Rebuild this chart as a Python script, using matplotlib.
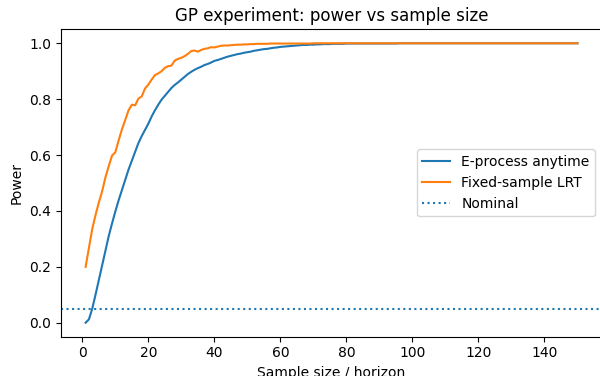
import numpy as np
import matplotlib
matplotlib.use("Agg")
import matplotlib.pyplot as plt

# horizons 1..150
horizons = np.arange(1, 151)

eprocess_power = [
    0.000, 0.012, 0.050, 0.100, 0.152, 0.205, 0.258, 0.310, 0.355, 0.398,
    0.438, 0.475, 0.512, 0.548, 0.580, 0.612, 0.643, 0.668, 0.690, 0.712,
    0.738, 0.760, 0.780, 0.798, 0.812, 0.826, 0.840, 0.851, 0.860, 0.870,
    0.880, 0.890, 0.898, 0.905, 0.911, 0.916, 0.922, 0.926, 0.931, 0.937,
    0.940, 0.944, 0.948, 0.952, 0.955, 0.958, 0.961, 0.963, 0.966, 0.968,
    0.970, 0.973, 0.975, 0.977, 0.979, 0.980, 0.982, 0.984, 0.985, 0.987,
    0.988, 0.989, 0.990, 0.991, 0.992, 0.993, 0.994, 0.994, 0.995, 0.995,
    0.996, 0.996, 0.997, 0.997, 0.997, 0.998, 0.998, 0.998, 0.998, 0.999,
    0.999, 0.999, 0.999, 0.999, 0.999, 0.999, 0.999, 0.999, 0.999, 0.999,
    0.999, 0.999, 0.999, 0.999, 0.999, 1.000, 1.000, 1.000, 1.000, 1.000,
    1.000, 1.000, 1.000, 1.000, 1.000, 1.000, 1.000, 1.000, 1.000, 1.000,
    1.000, 1.000, 1.000, 1.000, 1.000, 1.000, 1.000, 1.000, 1.000, 1.000,
    1.000, 1.000, 1.000, 1.000, 1.000, 1.000, 1.000, 1.000, 1.000, 1.000,
    1.000, 1.000, 1.000, 1.000, 1.000, 1.000, 1.000, 1.000, 1.000, 1.000,
    1.000, 1.000, 1.000, 1.000, 1.000, 1.000, 1.000, 1.000, 1.000, 1.000,
]

lrt_power = [
    0.200, 0.268, 0.335, 0.385, 0.430, 0.470, 0.520, 0.560, 0.598, 0.610,
    0.652, 0.692, 0.725, 0.760, 0.780, 0.778, 0.802, 0.810, 0.838, 0.852,
    0.870, 0.886, 0.892, 0.900, 0.912, 0.918, 0.920, 0.938, 0.944, 0.948,
    0.954, 0.962, 0.972, 0.974, 0.970, 0.976, 0.980, 0.982, 0.986, 0.985,
    0.988, 0.991, 0.992, 0.992, 0.993, 0.994, 0.995, 0.995, 0.996, 0.996,
    0.997, 0.997, 0.998, 0.998, 0.998, 0.998, 0.999, 0.999, 0.999, 0.999,
    0.999, 0.999, 0.999, 0.999, 0.999, 0.999, 0.999, 0.999, 0.999, 1.000,
    1.000, 1.000, 1.000, 1.000, 1.000, 1.000, 1.000, 1.000, 1.000, 1.000,
    1.000, 1.000, 1.000, 1.000, 1.000, 1.000, 1.000, 1.000, 1.000, 1.000,
    1.000, 1.000, 1.000, 1.000, 1.000, 1.000, 1.000, 1.000, 1.000, 1.000,
    1.000, 1.000, 1.000, 1.000, 1.000, 1.000, 1.000, 1.000, 1.000, 1.000,
    1.000, 1.000, 1.000, 1.000, 1.000, 1.000, 1.000, 1.000, 1.000, 1.000,
    1.000, 1.000, 1.000, 1.000, 1.000, 1.000, 1.000, 1.000, 1.000, 1.000,
    1.000, 1.000, 1.000, 1.000, 1.000, 1.000, 1.000, 1.000, 1.000, 1.000,
    1.000, 1.000, 1.000, 1.000, 1.000, 1.000, 1.000, 1.000, 1.000, 1.000,
]

nominal_alpha = 0.05

fig = plt.figure(figsize=(6.0, 3.76), dpi=100)
# axes runs slightly past the right edge, like the reference crop
ax = fig.add_axes([0.1017, 0.1045, 0.9017, 0.8176])

ax.plot(horizons, eprocess_power, color="#1f77b4", linewidth=1.5, label="E-process anytime")
ax.plot(horizons, lrt_power, color="#ff7f0e", linewidth=1.5, label="Fixed-sample LRT")
ax.axhline(nominal_alpha, color="#1f77b4", linestyle=":", linewidth=1.5, label="Nominal")

ax.set_title("GP experiment: power vs sample size")
ax.set_xlabel("Sample size / horizon")
ax.set_ylabel("Power")
ax.legend(loc="center right")

fig.savefig("out.png", dpi=100)
